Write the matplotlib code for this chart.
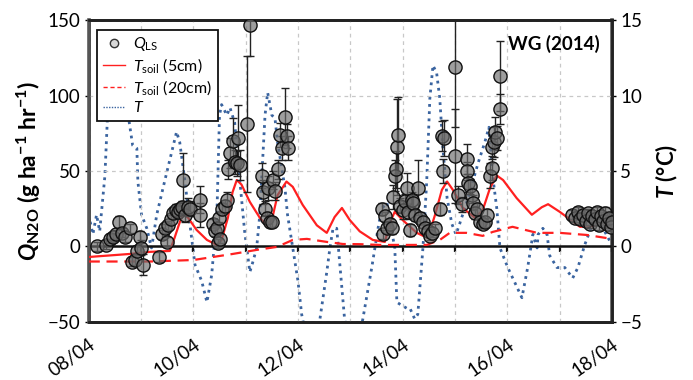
import matplotlib
matplotlib.use("Agg")
import matplotlib.pyplot as plt
from matplotlib.lines import Line2D
import numpy as np

plt.rcParams['font.family'] = ['Lato', 'DejaVu Sans']
plt.rcParams['mathtext.fontset'] = 'custom'
plt.rcParams['mathtext.rm'] = 'Lato'
plt.rcParams['mathtext.it'] = 'Lato:italic'
plt.rcParams['mathtext.bf'] = 'Lato:bold'
plt.rcParams['mathtext.bfit'] = 'Lato:bold:italic'

# ---------------- data (x = days since 08/04 00:00) ----------------
tick_pos = [0, 2, 4, 6, 8, 10]
tick_labels = ["08/04", "10/04", "12/04", "14/04", "16/04", "18/04"]

q_day = [0.15, 0.34, 0.40, 0.46, 0.52, 0.57, 0.63, 0.69, 0.78, 0.82, 0.88, 0.92, 0.98, 0.99, 1.03,
         1.34, 1.40, 1.45, 1.49, 1.51, 1.57, 1.61, 1.66, 1.70, 1.74, 1.78, 1.80, 1.84, 1.89, 1.93, 2.12, 2.12,
         2.37, 2.41, 2.45, 2.47, 2.49, 2.50, 2.54, 2.60, 2.64, 2.66, 2.70, 2.75, 2.79, 2.84, 2.85, 2.89, 3.02, 3.08,
         3.31, 3.33, 3.37, 3.40, 3.42, 3.46, 3.50, 3.52, 3.56, 3.61, 3.65, 3.69, 3.75, 3.79, 3.80,
         5.60, 5.62, 5.66, 5.70, 5.76, 5.79, 5.81, 5.85, 5.87, 5.89, 5.91, 5.95, 6.00, 6.04, 6.08, 6.10, 6.14,
         6.18, 6.20, 6.23, 6.29, 6.33, 6.39, 6.42, 6.48, 6.52, 6.56, 6.62,
         6.71, 6.75, 6.77, 6.79, 7.00, 7.00, 7.06, 7.13, 7.23, 7.23, 7.25, 7.28, 7.32, 7.34, 7.38, 7.42, 7.48,
         7.53, 7.57, 7.61, 7.67, 7.70, 7.70, 7.74, 7.76, 7.80, 7.86, 7.86,
         9.24, 9.29, 9.35, 9.39, 9.45, 9.50, 9.54, 9.58, 9.62, 9.67, 9.71, 9.75, 9.79, 9.83, 9.87, 9.90, 9.94, 9.98, 10.0]
q_val = [0, 1, 5, 6, 8, 16, 9, 6, 12, -10, -9, -3, 6, -1, -12,
         -7, 8, 12, 3, 14, 18, 22, 24, 23, 25, 26, 44, 21, 26, 25, 31, 21,
         15, 10, 12, 2, 19, 5, 25, 27, 31, 51, 62, 70, 56, 55, 72, 54, 81, 147,
         47, 36, 25, 19, 39, 16, 16, 44, 37, 51, 74, 65, 86, 73, 65,
         25, 8, 20, 12, 15, 12, 33, 47, 51, 66, 74, 27, 24, 30, 39, 23, 11,
         31, 29, 21, 39, 19, 16, 12, 10, 7, 9, 12,
         25, 73, 50, 72, 119, 60, 34, 28, 58, 50, 42, 40, 34, 29, 22, 25, 16,
         15, 16, 21, 47, 52, 66, 69, 76, 72, 91, 113,
         21, 19, 23, 18, 21, 17, 22, 15, 20, 18, 23, 14, 20, 17, 22, 15, 19, 13, 16]
q_err = [3, 3, 3, 3, 3, 4, 3, 3, 3, 3, 3, 3, 4, 5, 7,
         3, 3, 3, 3, 3, 3, 4, 4, 4, 4, 4, 18, 5, 6, 5, 9, 8,
         3, 3, 3, 3, 3, 3, 4, 4, 5, 6, 10, 15, 8, 8, 22, 10, 45, 21,
         8, 8, 5, 4, 8, 3, 3, 6, 6, 6, 8, 8, 19, 8, 8,
         4, 3, 3, 3, 3, 4, 8, 10, 12, 32, 25, 5, 6, 5, 10, 5, 4,
         5, 5, 4, 18, 4, 4, 3, 3, 3, 3, 3,
         4, 10, 8, 12, 40, 31, 6, 5, 10, 6, 6, 5, 5, 5, 4, 4, 3,
         3, 3, 4, 8, 8, 8, 10, 10, 8, 10, 23,
         3, 3, 3, 3, 3, 3, 3, 3, 3, 3, 3, 3, 3, 3, 4, 3, 3, 3, 3]

soil5_day = [0.0, 0.78, 1.17, 1.55, 1.64, 1.74, 1.80, 1.90, 2.06, 2.26, 2.45, 2.54, 2.66, 2.75, 2.83,
             2.92, 3.08, 3.27, 3.40, 3.50, 3.61, 3.78, 3.90, 4.09, 4.36, 4.55, 4.70, 4.84, 4.99, 5.18,
             5.43, 5.66, 5.76, 5.85, 6.00, 6.27, 6.48, 6.62, 6.75, 6.85, 6.96, 7.15, 7.38, 7.53, 7.67,
             7.80, 7.92, 8.18, 8.47, 8.66, 8.78, 9.00, 9.39, 9.64, 9.77, 10.0]
soil5_val = [-7, -5, -3.6, -3, 5.6, 16, 21.5, 19, 11, 4.3, 1, 4.3, 19, 36, 44,
             41, 29.5, 19, 14, 17.5, 34, 43, 39.5, 27.5, 14, 9, 19.5, 25.5, 17.5, 10,
             4.3, 3, 16, 23, 17.5, 9, 5.6, 21, 37.5, 43, 37.5, 25.5, 19, 24, 38.7,
             47, 44, 32, 21, 26, 28, 23, 13, 13.5, 16, 14]

soil20_day = [0.0, 1.17, 2.0, 2.75, 3.21, 3.60, 3.90, 4.17, 4.55, 4.86, 5.18, 5.56, 6.46, 6.71, 6.90,
              7.22, 7.53, 7.72, 8.10, 8.57, 9.00, 9.52, 10.0]
soil20_val = [-10, -10, -9, -5, -2.3, -0.3, 4.3, 5, 3, 1.6, 1.5, 1, 1, 4.3, 9,
              9, 7, 9.6, 13, 9, 9, 7.6, 5]

air_day = [0.0, 0.08, 0.15, 0.21, 0.31, 0.36, 0.44, 0.55, 0.67, 0.75, 0.84, 0.92, 0.94, 1.01, 1.11,
           1.20, 1.22, 1.30, 1.45, 1.68, 1.74, 1.84, 1.93, 2.03, 2.16, 2.26, 2.35, 2.45, 2.50, 2.54,
           2.64, 2.70, 2.79, 2.89, 2.98, 3.08, 3.14, 3.21, 3.27, 3.37, 3.42, 3.50, 3.56, 3.61, 3.75,
           3.80, 3.90, 4.00, 4.07, 4.19, 4.32, 4.42, 4.55, 4.61, 4.67, 4.74, 4.80, 4.89, 5.03, 5.14,
           5.24, 5.41, 5.53, 5.60, 5.70, 5.76, 5.85, 5.89, 5.98, 6.08, 6.14, 6.23, 6.29, 6.39, 6.46,
           6.52, 6.58, 6.65, 6.71, 6.77, 6.85, 6.94, 7.02, 7.09, 7.25, 7.44, 7.57, 7.65, 7.72, 7.80,
           7.86, 8.01, 8.28, 8.39, 8.49, 8.57, 8.59, 8.68, 8.76, 8.81, 8.95, 9.10, 9.25, 9.35, 9.48,
           9.64, 9.73, 9.83, 10.0]
air_val = [2.1, 0.8, 2.1, 1.0, 4.7, 8.7, 11.0, 12.0, 10.5, 8.8, 6.7, 6.5, 4.3, 2.1, 1.2,
           -0.1, 0.3, 2.1, 4.3, 7.6, 6.9, 4.3, 1.6, -1.2, -2.3, -3.7, -1.9, 2.1, 8.7, 9.4,
           8.7, 9.2, 8.2, 4.3, 1.0, -1.7, -1.0, -0.1, 2.1, 8.7, 10.2, 8.7, 8.5, 6.9, 3.9,
           2.1, -0.1, -2.3, -4.5, -6.5, -6.5, -4.8, -1.7, -0.1, 1.2, 1.2, -1.2, -4.8, -7.0, -6.5,
           -4.8, -1.4, 1.2, 2.5, 2.9, 1.6, -0.1, -3.7, -3.9, -4.1, -4.1, -4.8, -4.5, 0.0, 4.3,
           9.8, 12.0, 11.5, 9.8, 6.5, 3.2, 1.5, 0.8, 1.5, 3.2, 5.5, 6.9, 7.9, 4.7, 2.5,
           -0.1, -1.4, -3.4, -1.4, 0.8, -0.1, 0.8, 1.2, 0.8, -0.6, -1.4, -1.4, -2.1, -1.4, 0.1,
           1.6, 2.1, 1.2, 0.1]

# ---------------- figure ----------------
fig = plt.figure(figsize=(6.93, 3.80), dpi=100)
ax = fig.add_axes([0.128, 0.153, 0.755, 0.794])
ax2 = ax.twinx()
ax.set_zorder(ax2.get_zorder() + 1)
ax.patch.set_visible(False)

blue = '#3a64a0'
ax2.plot(air_day, air_val, color=blue, ls=(0, (1, 1.6)), lw=2.0)
ax2.set_ylim(-5, 15)
ax2.set_yticks([-5, 0, 5, 10, 15])

ax.axhline(0, color='#111111', lw=1.8, zorder=2.5)
ax.plot(soil5_day, soil5_val, color='#ff2020', lw=1.6, zorder=3)
ax.plot(soil20_day, soil20_val, color='#ff2020', lw=1.6, ls=(0, (5, 3)), zorder=3)

ax.errorbar(q_day, q_val, yerr=q_err, fmt='none', ecolor='#222222', elinewidth=1.0,
            capsize=3, capthick=1.0, zorder=4)
ax.plot(q_day, q_val, 'o', ms=9.5, mfc=(0.42, 0.42, 0.42, 0.65), mec='#111111', mew=1.0,
        ls='none', zorder=5)

ax.set_xlim(0, 10)
ax.set_ylim(-50, 150)
ax.set_yticks([-50, 0, 50, 100, 150])
ax.set_xticks(np.arange(0, 11, 1), minor=True)
ax.set_xticks(tick_pos)
ax.set_xticklabels(tick_labels, rotation=35, ha='right', rotation_mode='anchor')
ax.tick_params(axis='x', which='both', length=0, pad=10, labelsize=13.5)
ax.tick_params(axis='y', length=3, width=1, labelsize=13.5, pad=3)
ax2.tick_params(axis='y', length=3, width=1, labelsize=13.5, pad=3)

ax.grid(True, which='both', axis='x', ls=(0, (3, 3)), color='#c8c8c8', lw=0.9)
ax.grid(True, which='major', axis='y', ls=(0, (3, 3)), color='#c8c8c8', lw=0.9)

for a in (ax, ax2):
    for s in a.spines.values():
        s.set_linewidth(2.0)
        s.set_color('#222222')
ax.spines['left'].set_color('#555555')
ax.spines['left'].set_linewidth(2.6)
ax2.spines['right'].set_color('#555555')
ax2.spines['right'].set_linewidth(2.6)

# day ticks on the zero line
sec = ax.secondary_xaxis(0.25)
sec.set_xticks(np.arange(0, 11, 1))
sec.set_xticklabels([])
sec.tick_params(axis='x', direction='out', length=4, width=1.6, color='#111111')
sec.spines['bottom'].set_visible(False)

ax.set_ylabel(r"$\mathbfit{Q}_{\mathbf{N2O}}$ (g ha$^{\mathbf{-1}}$ hr$^{\mathbf{-1}}$)",
              fontsize=16.5, fontweight='bold', labelpad=3)
ax2.set_ylabel(r"$\mathbfit{T}$ (°C)", fontsize=16, fontweight='bold', labelpad=8)

ax.text(0.977, 0.922, "WG (2014)", transform=ax.transAxes, ha='right', va='center',
        fontsize=13.5, fontweight='bold', zorder=10)

handles = [
    Line2D([], [], marker='o', ls='none', ms=6, mfc='#d8d8d8', mec='#333333', mew=1.0),
    Line2D([], [], color='#ff2020', lw=1.0),
    Line2D([], [], color='#ff2020', lw=1.0, ls=(0, (3, 2))),
    Line2D([], [], color=blue, lw=1.0, ls=(0, (1, 1))),
]
labels = [r"$\mathit{Q}_{\mathrm{LS}}$", r"$\mathit{T}_{\mathrm{soil}}$ (5cm)",
          r"$\mathit{T}_{\mathrm{soil}}$ (20cm)", r"$\mathit{T}$"]
leg = ax.legend(handles, labels, loc='upper left', bbox_to_anchor=(0.001, 0.995),
                fontsize=11.5, frameon=True, fancybox=False, framealpha=1.0,
                edgecolor='#111111', handlelength=1.4, handletextpad=0.5,
                labelspacing=0.2, borderpad=0.35)
leg.get_frame().set_linewidth(1.3)
leg.set_zorder(20)

fig.savefig("out.png", dpi=100)
